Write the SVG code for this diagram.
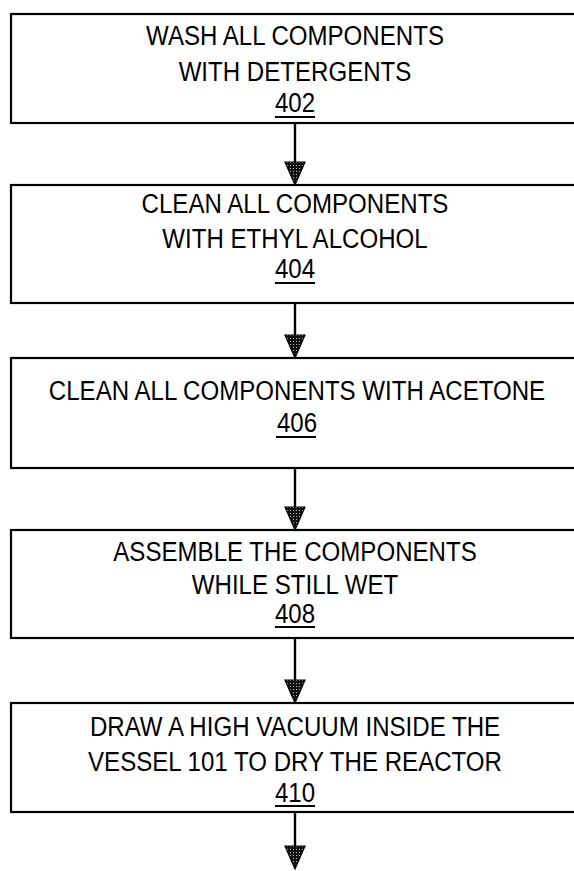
<svg xmlns="http://www.w3.org/2000/svg" width="574" height="871" viewBox="0 0 574 871">
<defs>
<pattern id="stip" width="3" height="3" patternUnits="userSpaceOnUse">
<rect width="3" height="3" fill="#111"/>
<rect x="1" y="1" width="1" height="1" fill="#bbb"/>
</pattern>
<path id="ah" d="M-10,-23 L10,-23 L0,0 Z" fill="url(#stip)" stroke="#000" stroke-width="1.2" stroke-linejoin="miter"/>
</defs>
<style>
.box{fill:#fff;stroke:#000;stroke-width:2.2}
.t{font-family:"Liberation Sans",Arial,sans-serif;font-size:28px;fill:#000;text-anchor:middle}
.ul{stroke:#000;stroke-width:2.2}
.conn{stroke:#000;stroke-width:2.4;fill:none}
</style>
<rect width="574" height="871" fill="#fff"/>
<g id="connectors">
<line class="conn" x1="295" y1="123" x2="295" y2="165"/>
<use href="#ah" x="295" y="185"/>
<line class="conn" x1="295" y1="303" x2="295" y2="338"/>
<use href="#ah" x="295" y="358"/>
<line class="conn" x1="295" y1="468" x2="295" y2="510"/>
<use href="#ah" x="295" y="530"/>
<line class="conn" x1="295" y1="638" x2="295" y2="683"/>
<use href="#ah" x="295" y="703"/>
<line class="conn" x1="295" y1="812" x2="295" y2="849"/>
<use href="#ah" x="295" y="869"/>
</g>
<g id="n402">
<rect class="box" x="11" y="14" width="580" height="109"/>
<g transform="translate(295,0) scale(0.86,1)">
<text class="t" x="0" y="45">WASH ALL COMPONENTS</text>
<text class="t" x="0" y="81">WITH DETERGENTS</text>
<text class="t" x="0" y="112">402</text>
</g>
<line class="ul" x1="275" y1="117" x2="315" y2="117"/>
</g>
<g id="n404">
<rect class="box" x="11" y="185" width="580" height="118"/>
<g transform="translate(295,0) scale(0.86,1)">
<text class="t" x="0" y="213">CLEAN ALL COMPONENTS</text>
<text class="t" x="0" y="248">WITH ETHYL ALCOHOL</text>
<text class="t" x="0" y="278">404</text>
</g>
<line class="ul" x1="275" y1="283" x2="315" y2="283"/>
</g>
<g id="n406">
<rect class="box" x="11" y="358" width="580" height="110"/>
<g transform="translate(297,0) scale(0.86,1)">
<text class="t" x="0" y="400">CLEAN ALL COMPONENTS WITH ACETONE</text>
<text class="t" x="0" y="432">406</text>
</g>
<line class="ul" x1="276" y1="437" x2="316" y2="437"/>
</g>
<g id="n408">
<rect class="box" x="11" y="530" width="580" height="108"/>
<g transform="translate(295,0) scale(0.86,1)">
<text class="t" x="0" y="561">ASSEMBLE THE COMPONENTS</text>
<text class="t" x="0" y="594">WHILE STILL WET</text>
<text class="t" x="0" y="623">408</text>
</g>
<line class="ul" x1="275" y1="627" x2="315" y2="627"/>
</g>
<g id="n410">
<rect class="box" x="11" y="703" width="580" height="109"/>
<g transform="translate(295,0) scale(0.86,1)">
<text class="t" x="0" y="736">DRAW A HIGH VACUUM INSIDE THE</text>
<text class="t" x="0" y="771">VESSEL 101 TO DRY THE REACTOR</text>
<text class="t" x="0" y="802">410</text>
</g>
<line class="ul" x1="275" y1="806" x2="315" y2="806"/>
</g>
</svg>
